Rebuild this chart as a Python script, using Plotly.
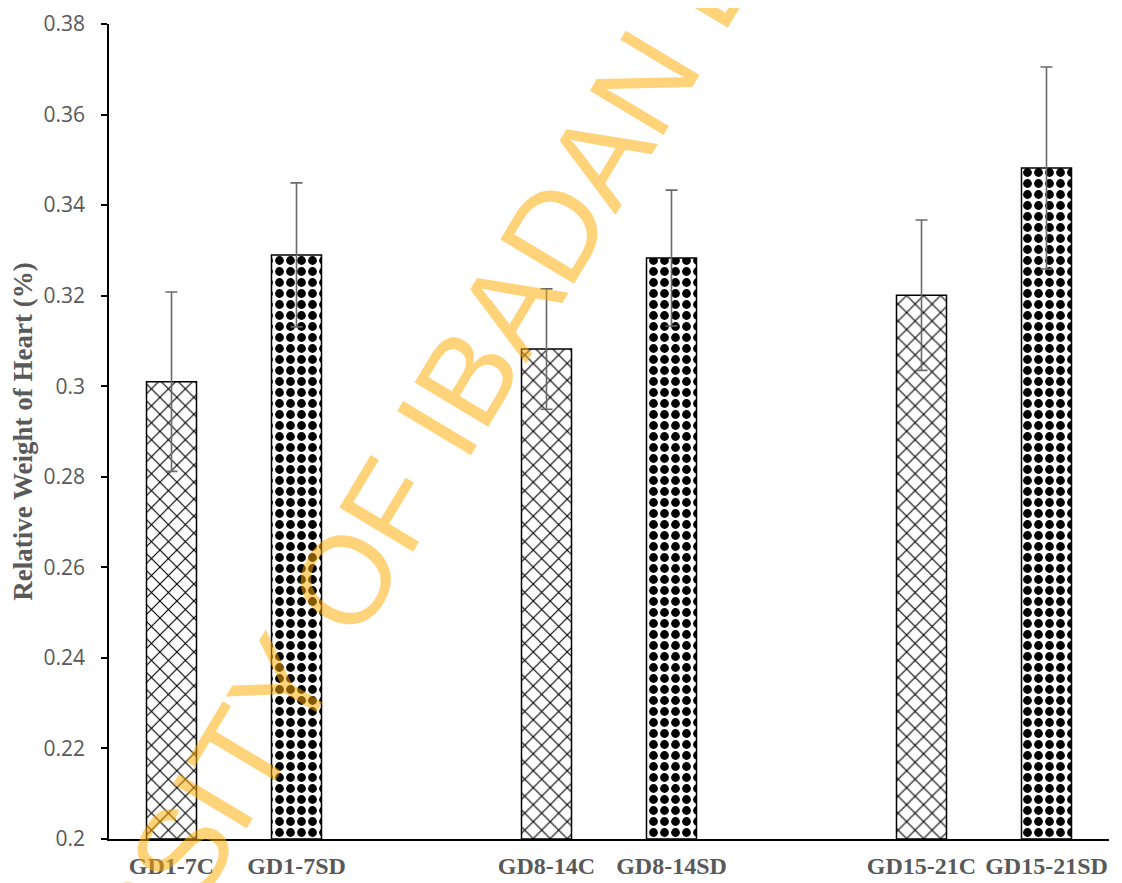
import plotly.graph_objects as go

# ---- data ----
categories = ["GD1-7C", "GD1-7SD", " ", "GD8-14C", "GD8-14SD", "  ", "GD15-21C", "GD15-21SD"]
control_groups = ["GD1-7C", "GD8-14C", "GD15-21C"]
control_means = [0.3010, 0.3082, 0.3201]
control_sd = [0.0198, 0.0133, 0.0166]
sd_groups = ["GD1-7SD", "GD8-14SD", "GD15-21SD"]
sd_means = [0.3290, 0.3283, 0.3482]
sd_sd = [0.0159, 0.0150, 0.0223]
y_ticks = [0.2, 0.22, 0.24, 0.26, 0.28, 0.3, 0.32, 0.34, 0.36, 0.38]
y_tick_labels = ["0.2", "0.22", "0.24", "0.26", "0.28", "0.3", "0.32", "0.34", "0.36", "0.38"]
y_title = "Relative Weight of Heart (%)"
watermark = "UNIVERSITY OF IBADAN LIBRARY"

GREY = "#595959"

err_style = dict(type="data", visible=True, color="#6a6a6a", thickness=1.6, width=6)

fig = go.Figure()
fig.add_trace(go.Bar(
    x=control_groups, y=[m - 0.2 for m in control_means], base=0.2,
    width=0.4,
    marker=dict(color="white", line=dict(color="black", width=1.5),
                pattern=dict(shape="x", size=12, solidity=0.18,
                             fgcolor="black", bgcolor="white", fillmode="replace")),
    error_y=dict(array=control_sd, **err_style),
    showlegend=False,
))
fig.add_trace(go.Bar(
    x=sd_groups, y=[m - 0.2 for m in sd_means], base=0.2,
    width=0.4,
    marker=dict(color="white", line=dict(color="black", width=1.5),
                pattern=dict(shape=".", size=11, solidity=0.5,
                             fgcolor="black", bgcolor="white", fillmode="replace")),
    error_y=dict(array=sd_sd, **err_style),
    showlegend=False,
))

# page body has an 8px margin, so the figure is sized to fit the window
fig.update_layout(
    width=1114, height=875,
    margin=dict(l=101, r=13, t=16, b=44),
    paper_bgcolor="white", plot_bgcolor="white",
    barmode="overlay",
    xaxis=dict(
        type="category", categoryorder="array", categoryarray=categories,
        range=[-0.5, len(categories) - 0.5],
        automargin=False,
        showline=True, linecolor="black", linewidth=1.5,
        ticks="", showgrid=False, zeroline=False,
        tickfont=dict(family="Liberation Serif", size=24, color=GREY, weight="bold"),
        ticklabelstandoff=4,
    ),
    yaxis=dict(
        range=[0.2, 0.38],
        automargin=False,
        tickvals=y_ticks, ticktext=y_tick_labels,
        showline=True, linecolor="black", linewidth=1.5,
        ticks="outside", ticklen=6, tickwidth=1.5, tickcolor="black",
        showgrid=False, zeroline=False,
        tickfont=dict(family="Open Sans", size=21, color=GREY),
        ticklabelstandoff=12,
        title=dict(text=y_title, standoff=6,
                   font=dict(family="Liberation Serif", size=27, color=GREY, weight="bold")),
    ),
    annotations=[dict(
        text=watermark, xref="paper", yref="paper", x=0.330, y=0.508,
        xanchor="center", yanchor="middle", showarrow=False, textangle=-59,
        font=dict(family="Liberation Sans", size=125, color="rgba(255,170,0,0.52)"),
    )],
)

fig.write_html("out.html")
